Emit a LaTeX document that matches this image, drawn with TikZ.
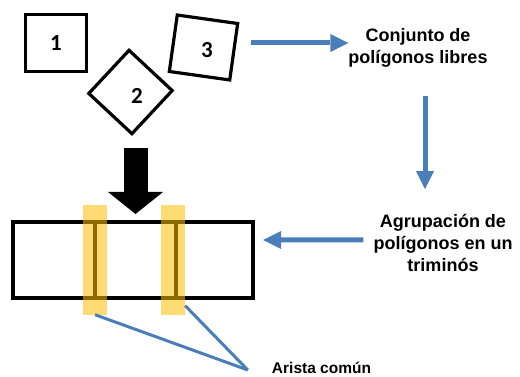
\documentclass[tikz,border=0pt]{standalone}
\usepackage{fontspec}
\setmainfont{Liberation Sans}
\newfontfamily\numfont{Carlito}
\usepackage{tikz}
\usetikzlibrary{arrows.meta,calc,positioning}
\definecolor{flowblue}{HTML}{4A7EBB}
\definecolor{bandyellow}{HTML}{FFC000}

\begin{document}
\begin{tikzpicture}[x=10pt, y=-10pt,
		poly/.style={draw, line width=3.2pt, inner sep=0pt, outer sep=0pt},
		cell/.style={draw, line width=3.2pt, minimum height=76pt, inner sep=0pt, outer sep=0pt},
		band/.style={fill=bandyellow, fill opacity=0.55, minimum width=24pt, minimum height=109pt, inner sep=0pt},
		num/.style={font=\numfont\bfseries\fontsize{23}{23}\selectfont, inner sep=0pt},
		caption/.style={font=\bfseries\fontsize{18}{22}\selectfont, align=center, inner sep=0pt},
		bluearrow/.style={draw=flowblue, line width=5pt, -{Triangle[width=18pt, length=18pt, line width=0pt]}},
		blueline/.style={draw=flowblue, line width=3pt},
		bigarrow/.style={line width=24pt, -{Triangle[width=55pt, length=22pt, line width=0pt]}}
		]
	
		\useasboundingbox (0,0) rectangle (52,37.7);
	
		% --- Polígonos libres ---
		\node[poly, minimum width=61pt, minimum height=57pt] (sq1) at (5.6, 4.3) {};
		\node[poly, minimum size=59pt, rotate=47] (sq2) at (13.05, 9.2) {};
		\node[poly, minimum width=61pt, minimum height=57pt, rotate=-8] (sq3) at (20.35, 4.75) {};
		\node[num] (lab1) at (5.6, 4.3) {1};
		\node[num] (lab2) at (13.7, 9.6) {2};
		\node[num] (lab3) at (20.7, 5.0) {3};
	
		% --- Triminó ---
		\node[cell, minimum width=82pt] (cell1) at (5.4, 26) {};
		\node[cell, minimum width=81pt, right=0pt of cell1] (cell2) {};
		\node[cell, minimum width=77pt, right=0pt of cell2] (cell3) {};
	
		% Aristas comunes
		\node[band] (hl1) at (cell1.east) {};
		\node[band] (hl2) at ([xshift=-3pt]cell2.east) {};
	
		% Flecha negra
		\draw[bigarrow, shorten >=8pt] ([yshift=74pt]cell2.north) -- (cell2.north);
	
		% --- Textos ---
		\node[caption] (conj) at (41.8, 4.8) {Conjunto de\\polígonos libres};
		\node[caption] (agr) at (44.3, 24.3) {Agrupación de\\polígonos en un\\triminós};
		\node[font=\bfseries\fontsize{15.5}{18}\selectfont, inner sep=0pt] (arista) at (32.15, 36.8) {Arista común};
		\coordinate (meet) at ([xshift=-24pt, yshift=-2pt]arista.west);
	
		% Flechas azules
		\draw[bluearrow] ([xshift=-97pt, yshift=5pt]conj.west) -- ([yshift=5pt]conj.west);
		\draw[bluearrow] ([xshift=7pt, yshift=-28pt]conj.south) -- ([xshift=-18pt, yshift=25pt]agr.north);
		\draw[bluearrow] ([xshift=-10pt, yshift=3pt]agr.west) -- ([xshift=10pt, yshift=20pt]cell3.east);
	
		% Líneas a la etiqueta
		\draw[blueline] (hl1.south) -- (meet);
		\draw[blueline] ([yshift=9pt]hl2.south east) -- (meet);
	
	\end{tikzpicture}
\end{document}
